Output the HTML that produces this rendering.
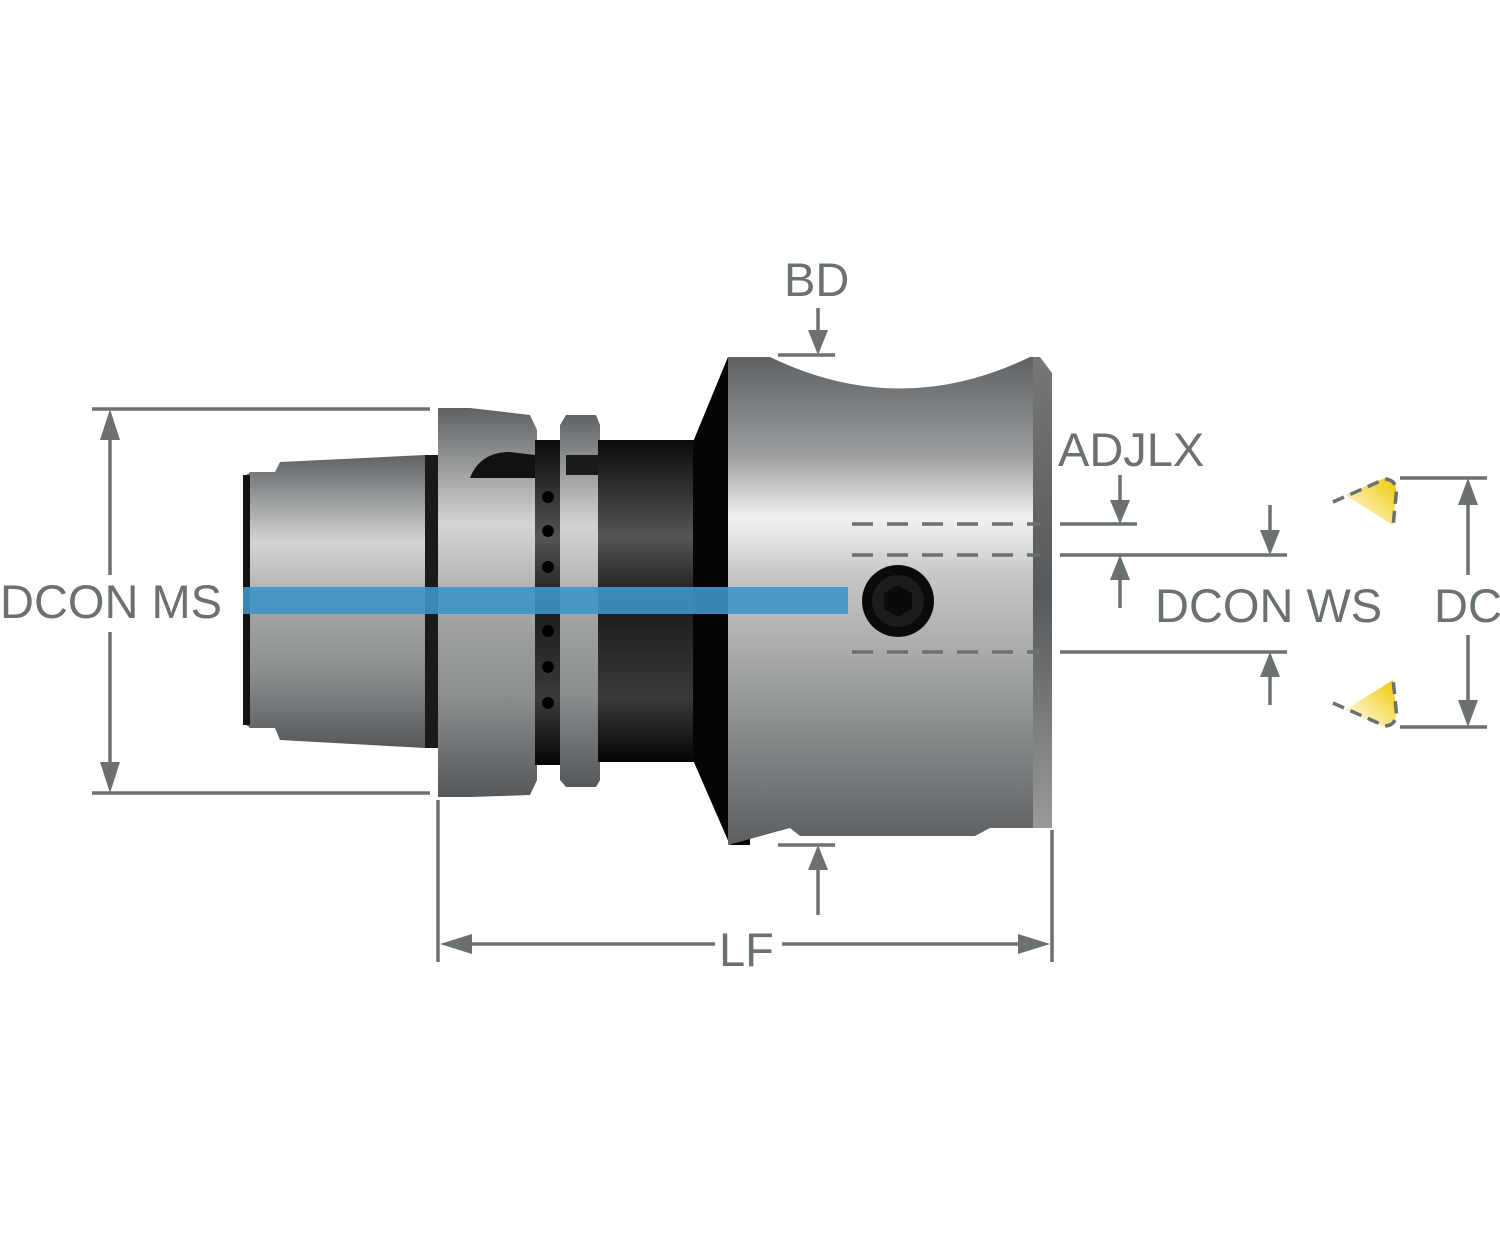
<!DOCTYPE html>
<html><head><meta charset="utf-8"><style>
html,body{margin:0;padding:0;background:#fff;}
svg{display:block}
text{font-family:"Liberation Sans",sans-serif;fill:#6b7070;font-size:47px}
</style></head><body>
<svg width="1500" height="1260" viewBox="0 0 1500 1260" xmlns="http://www.w3.org/2000/svg">
<defs>
<linearGradient id="body" x1="0" y1="0" x2="0" y2="1">
<stop offset="0" stop-color="#5e6264"/><stop offset="0.2" stop-color="#9a9c9e"/>
<stop offset="0.33" stop-color="#f2f2f2"/><stop offset="0.45" stop-color="#c4c6c7"/>
<stop offset="0.6" stop-color="#a9abac"/><stop offset="0.75" stop-color="#8c8f90"/>
<stop offset="1" stop-color="#5b5f61"/></linearGradient>
<linearGradient id="shank" x1="0" y1="0" x2="0" y2="1">
<stop offset="0" stop-color="#5e6264"/><stop offset="0.3" stop-color="#d3d4d5"/>
<stop offset="0.55" stop-color="#a0a2a4"/><stop offset="0.75" stop-color="#8a8d8e"/>
<stop offset="1" stop-color="#55595b"/></linearGradient>
<linearGradient id="dark" x1="0" y1="0" x2="0" y2="1">
<stop offset="0" stop-color="#0a0a0a"/><stop offset="0.3" stop-color="#555"/>
<stop offset="0.5" stop-color="#1a1a1a"/><stop offset="0.8" stop-color="#3a3a3a"/>
<stop offset="1" stop-color="#050505"/></linearGradient>
<linearGradient id="edge" x1="0" y1="0" x2="0" y2="1">
<stop offset="0" stop-color="#777"/><stop offset="0.5" stop-color="#555a5c"/><stop offset="1" stop-color="#999"/></linearGradient>
<linearGradient id="yel" x1="1" y1="0" x2="0" y2="1">
<stop offset="0" stop-color="#f0c800"/><stop offset="1" stop-color="#fff"/></linearGradient>
</defs>

<path d="M243,478 L250,472 L275,472 L280,462 L425,455 L435,455 L435,748 L425,748 L280,740 L275,728 L250,728 L243,722 Z" fill="url(#shank)"/>
<rect x="243" y="475" width="7" height="250" fill="#111"/>
<rect x="425" y="455" width="13" height="293" fill="#1a1a1a"/>
<path d="M438,408 L470,408 L530,415 L537,430 L537,780 L530,795 L470,797 L438,797 Z" fill="url(#shank)"/>
<path d="M470,478 Q480,452 510,452 L535,455 L537,478 Z" fill="#111"/>
<rect x="535" y="440" width="27" height="325" fill="url(#dark)"/>
<g fill="#000"><circle cx="548" cy="497" r="6"/><circle cx="548" cy="531" r="6"/><circle cx="548" cy="567" r="6"/><circle cx="548" cy="631" r="6"/><circle cx="548" cy="667" r="6"/><circle cx="548" cy="703" r="6"/></g>
<path d="M560,425 L566,415 L596,415 L600,425 L600,780 L596,787 L566,787 L560,780 Z" fill="url(#shank)"/>
<rect x="566" y="455" width="34" height="20" fill="#1a1a1a"/>
<rect x="598" y="440" width="105" height="322" fill="url(#dark)"/>
<path d="M728,357 L750,357 L750,845 L730,845 L693,760 L693,442 Z" fill="#050505"/>
<path d="M728,357 L770,357 Q900,420 1030,357 L1040,357 L1040,828 L990,828 L975,836 L800,836 L790,828 L728,845 Z" fill="url(#body)"/>
<path d="M1033,357 L1040,357 L1052,373 L1052,828 L1033,828 Z" fill="url(#edge)"/>
<rect x="243" y="587" width="605" height="27" fill="#3d95c8" opacity="0.9"/>
<circle cx="898" cy="601" r="36" fill="#0a0a0a"/>
<circle cx="898" cy="601" r="26" fill="#1c1c1c"/>
<polygon points="898,585 912,593 912,609 898,617 884,609 884,593" fill="#0a0a0a"/>

<g stroke="#6b7070" stroke-width="3.5" fill="none">
<line x1="852" y1="524" x2="1040" y2="524" stroke-dasharray="21,14"/>
<line x1="852" y1="555" x2="1040" y2="555" stroke-dasharray="21,14"/>
<line x1="852" y1="652" x2="1040" y2="652" stroke-dasharray="21,14"/>
<line x1="92" y1="409" x2="430" y2="409"/><line x1="92" y1="793" x2="430" y2="793"/>
<line x1="110" y1="440" x2="110" y2="575"/><line x1="110" y1="632" x2="110" y2="765"/>
<line x1="778" y1="355" x2="835" y2="355"/><line x1="818" y1="308" x2="818" y2="335"/>
<line x1="778" y1="845" x2="835" y2="845"/><line x1="818" y1="870" x2="818" y2="915"/>
<line x1="1060" y1="524" x2="1137" y2="524"/><line x1="1120" y1="475" x2="1120" y2="505"/>
<line x1="1060" y1="555" x2="1287" y2="555"/><line x1="1270" y1="505" x2="1270" y2="535"/>
<line x1="1120" y1="575" x2="1120" y2="608"/>
<line x1="1060" y1="652" x2="1287" y2="652"/><line x1="1270" y1="672" x2="1270" y2="705"/>
<line x1="1400" y1="478" x2="1487" y2="478"/><line x1="1400" y1="727" x2="1487" y2="727"/>
<line x1="1468" y1="500" x2="1468" y2="575"/><line x1="1468" y1="635" x2="1468" y2="705"/>
<line x1="438" y1="800" x2="438" y2="962"/><line x1="1052" y1="830" x2="1052" y2="962"/>
<line x1="460" y1="944" x2="715" y2="944"/><line x1="782" y1="944" x2="1030" y2="944"/>
</g>
<g fill="#6b7070">
<polygon points="110,409 100,440 120,440"/><polygon points="110,793 100,762 120,762"/>
<polygon points="818,355 808,330 828,330"/><polygon points="818,845 808,870 828,870"/>
<polygon points="1120,524 1110,500 1130,500"/><polygon points="1270,555 1260,530 1280,530"/>
<polygon points="1120,555 1110,580 1130,580"/><polygon points="1270,652 1260,677 1280,677"/>
<polygon points="1468,478 1458,505 1478,505"/><polygon points="1468,727 1458,700 1478,700"/>
<polygon points="440,944 472,934 472,954"/><polygon points="1050,944 1018,934 1018,954"/>
</g>
<path d="M1345,495 L1385,478 Q1398,480 1396,495 L1393,525 Z" fill="url(#yel)"/>
<path d="M1345,710 L1385,727 Q1398,725 1396,710 L1393,680 Z" fill="url(#yel)"/>
<g stroke="#6b7070" stroke-width="3.5" fill="none" stroke-dasharray="12,7">
<path d="M1333,502 L1385,479 Q1398,480 1396,496 L1393,527"/>
<path d="M1333,703 L1385,726 Q1398,725 1396,709 L1393,678"/>
</g>

<text x="0" y="618">DCON MS</text>
<text x="784" y="296">BD</text>
<text x="1058" y="466">ADJLX</text>
<text x="1155" y="622">DCON WS</text>
<text x="1434" y="622">DC</text>
<text x="719" y="966">LF</text>
</svg>
</body></html>
